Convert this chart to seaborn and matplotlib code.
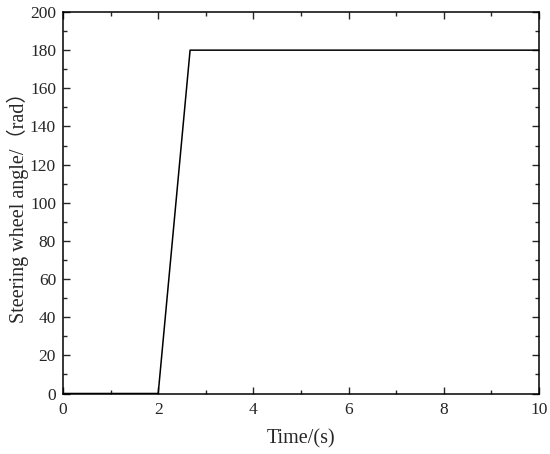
import numpy as np
import pandas as pd
import seaborn as sns
import matplotlib.pyplot as plt
from matplotlib.ticker import MultipleLocator

# steering input: ramp from 2 s to ~2.67 s, then hold
time_s = [0, 2.0, 2.67, 10.0]
angle = [0, 0, 180, 180]

sns.set_style("ticks")
plt.rcParams['font.family'] = ['Liberation Serif', 'Noto Sans CJK SC', 'DejaVu Sans']

df = pd.DataFrame({'t': time_s, 'a': angle})

fig = plt.figure(figsize=(5.5, 4.54), dpi=100)
ax = fig.add_axes([63/550, 1 - 393.5/454, (539-63)/550, (393.5-12)/454])
sns.lineplot(data=df, x='t', y='a', color='black', linewidth=1.1, ax=ax, sort=False)

ax.set_xlim(0, 10)
ax.set_ylim(0, 200)
ax.xaxis.set_major_locator(MultipleLocator(2))
ax.xaxis.set_minor_locator(MultipleLocator(1))
ax.yaxis.set_major_locator(MultipleLocator(20))
ax.yaxis.set_minor_locator(MultipleLocator(10))
ax.tick_params(which='both', direction='in', top=True, right=True, labelsize=12.5, width=1)
ax.tick_params(which='major', length=5)
ax.tick_params(which='minor', length=3)
ax.tick_params(axis='x', pad=6)
ax.tick_params(axis='y', pad=5)
for s in ax.spines.values():
    s.set_linewidth(1.1)
    s.set_color('black')

ax.set_xlabel('Time/(s)', fontsize=14.5, labelpad=8)
ax.set_ylabel('Steering wheel angle/（rad）', fontsize=14.5, labelpad=1)

fig.savefig('out.png', dpi=100)
